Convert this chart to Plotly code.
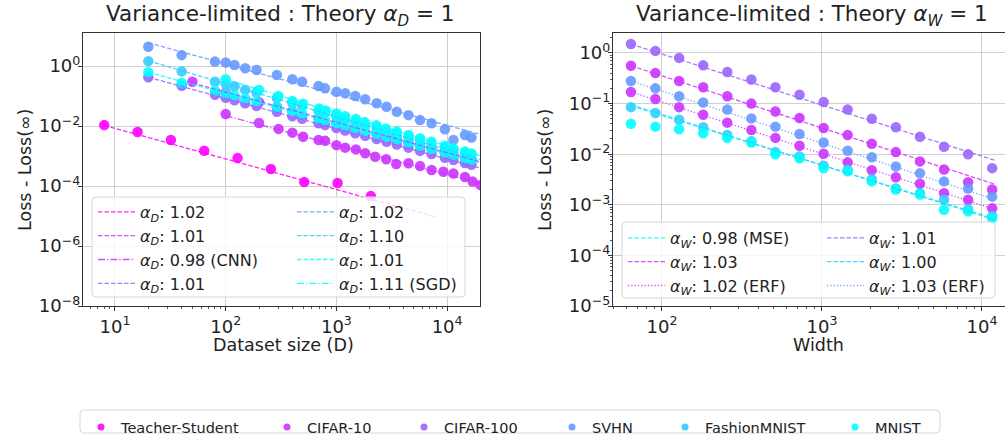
import numpy as np
import plotly.graph_objects as go

FIG_W, FIG_H = 1005, 437
FONT = "DejaVu Sans"
INK = "#222222"

# ---------------------------------------------------------------- datasets
datasets = ["Teacher-Student", "CIFAR-10", "CIFAR-100", "SVHN", "FashionMNIST", "MNIST"]
dataset_colors = ["#ff00ff", "#cc33ff", "#9966ff", "#6699ff", "#33ccff", "#00ffff"]

# ---------------------------------------------------------------- dataset-size sweep
ts_size = [8, 16, 32, 64, 128, 256, 512, 1024, 2048]
ts_loss = [1.07e-2, 6.3e-3, 3.4e-3, 1.5e-3, 8.5e-4, 3.7e-4, 1.35e-4, 1.26e-4, 4.6e-5]

size_grid = [20, 40, 80, 100, 120, 150, 190, 290, 400, 490, 690, 790, 1000, 1200, 1480,
             1820, 2310, 2840, 3510, 4470, 5690, 7240, 9550, 11400, 14500, 16600]

svhn_size_loss = [4.4, 2.3, 1.4, 1.3, 1.08, 0.84, 0.74, 0.50, 0.36, 0.30, 0.215, 0.18, 0.139,
                  0.123, 0.10, 0.078, 0.057, 0.044, 0.030, 0.023, 0.0158, 0.0123, 0.0078,
                  0.0034, 0.0050, 0.0041]
cifar100_size_loss = [0.42, 0.22, 0.11, 0.088, 0.072, 0.057, 0.046, 0.030, 0.021, 0.0175,
                      0.0123, 0.0108, 0.0085, 0.0071, 0.0057, 0.0047, 0.0037, 0.0030, 0.0024,
                      0.0019, 0.00148, 0.00117, 0.00088, 0.00074, 0.00058, 0.00051]
fmnist_size_loss = [1.45, 0.66, 0.30, 0.25, 0.21, 0.16, 0.13, 0.085, 0.058, 0.046, 0.032,
                    0.028, 0.021, 0.0175, 0.0138, 0.0112, 0.0088, 0.0068, 0.0054, 0.0042,
                    0.0032, 0.0025, 0.0019, 0.0016, 0.00125, 0.0011]
mnist_size_loss = [0.62, 0.27, 0.15, 0.12, 0.105, 0.082, 0.066, 0.043, 0.031, 0.026, 0.018,
                   0.0155, 0.0125, 0.0104, 0.0085, 0.0068, 0.0054, 0.0044, 0.0036, 0.0028,
                   0.0022, 0.0017, 0.0013, 0.0011, 0.00085, 0.00075]

cifar10_size = [50, 100, 200, 290, 400, 690, 1000, 1480, 2310, 2840, 3510, 4470, 5690, 7240,
                9550, 11400, 14500, 16600]
cifar10_size_loss = [0.30, 0.13, 0.062, 0.043, 0.031, 0.018, 0.0125, 0.0085, 0.0055, 0.0045,
                     0.0036, 0.0028, 0.0022, 0.0017, 0.0013, 0.0011, 0.00085, 0.00075]

cifar10_cnn_size = [100, 200, 300, 400, 500, 690, 790, 1000, 1200, 1500, 1820, 2240, 2820,
                    3470, 4470, 5690, 7240, 9250, 11400, 14500, 17000, 20000]
cifar10_cnn_loss = [2.5e-2, 1.26e-2, 8.0e-3, 6.0e-3, 4.4e-3, 3.4e-3, 3.2e-3, 2.3e-3, 1.9e-3,
                    1.66e-3, 1.23e-3, 9.5e-4, 7.8e-4, 5.4e-4, 5.7e-4, 4.6e-4, 3.4e-4, 3.0e-4,
                    2.6e-4, 2.0e-4, 1.4e-4, 1.07e-4]

mnist_sgd_size = [100, 200, 300, 400, 500, 700, 800, 1000, 1200, 1500, 1800, 2300, 2800,
                  3500, 4500, 5700, 7200, 9500, 11400, 14500, 16600]
mnist_sgd_loss = [0.36, 0.16, 0.10, 0.068, 0.055, 0.038, 0.033, 0.026, 0.021, 0.017, 0.0135,
                  0.0105, 0.0082, 0.0066, 0.0050, 0.0039, 0.0030, 0.0022, 0.0018, 0.0014,
                  0.0012]

# power-law fits  L = L0 * (D / D0) ** -alpha
size_fit_alpha = [1.02, 1.01, 0.98, 1.01, 1.02, 1.10, 1.01, 1.11]
size_fit_note = ["", "", " (CNN)", "", "", "", "", " (SGD)"]
size_fit_data = ["Teacher-Student", "CIFAR-10", "CIFAR-10", "CIFAR-100",
                 "SVHN", "FashionMNIST", "MNIST", "MNIST"]
size_fit_start = [8, 50, 100, 20, 20, 20, 20, 100]
size_fit_stop = [8192, 20000, 20000, 20000, 20000, 20000, 20000, 20000]
size_fit_loss0 = [1.05e-2, 0.27, 0.022, 0.42, 6.0, 1.5, 0.62, 0.36]
size_fit_dash = ["dash", "dash", "dashdot", "dash", "dash", "dash", "dash", "dashdot"]

# ---------------------------------------------------------------- width sweep
width_grid = [64, 91, 128, 181, 256, 362, 512, 724, 1024, 1448, 2048, 2896, 4096, 5793,
              8192, 11585]
cifar100_width_loss = [1.5, 1.1, 0.8, 0.57, 0.42, 0.30, 0.21, 0.15, 0.107, 0.076, 0.050,
                       0.034, 0.022, 0.014, 0.010, 0.0053]
cifar10_width_loss = [0.56, 0.40, 0.28, 0.21, 0.14, 0.10, 0.07, 0.052, 0.033, 0.024, 0.016,
                      0.011, 0.0072, 0.0050, 0.0028, 0.0020]
svhn_erf_width_loss = [0.28, 0.20, 0.14, 0.105, 0.076, 0.051, 0.035, 0.025, 0.017, 0.0117,
                       0.0087, 0.0057, 0.0042, 0.0029, 0.0021, 0.00145]
cifar10_erf_width_loss = [0.17, 0.123, 0.085, 0.060, 0.042, 0.030, 0.021, 0.0147, 0.0102,
                          0.0069, 0.0048, 0.0035, 0.0026, 0.0017, 0.00126, 0.00085]
fmnist_width_loss = [0.085, 0.065, 0.048, 0.034, 0.024, 0.018, 0.011, 0.009, 0.0059, 0.0049,
                     0.0032, 0.0021, 0.0017, 0.00126, 0.00082, 0.0006]
mnist_width_loss = [0.040, 0.035, 0.031, 0.026, 0.021, 0.017, 0.010, 0.0083, 0.0053, 0.0046,
                    0.0029, 0.0020, 0.0016, 0.0008, 0.00074, 0.00054]

width_fit_alpha = [0.98, 1.03, 1.02, 1.01, 1.00, 1.03]
width_fit_note = [" (MSE)", "", " (ERF)", "", "", " (ERF)"]
width_fit_data = ["MNIST", "CIFAR-10", "CIFAR-10", "CIFAR-100", "FashionMNIST", "SVHN"]
width_fit_start = [64, 64, 64, 64, 64, 64]
width_fit_stop = [12000, 12000, 12000, 12000, 12000, 12000]
width_fit_loss0 = [0.09, 0.56, 0.17, 1.5, 0.095, 0.28]
width_fit_dash = ["dash", "dash", "dot", "dash", "dash", "dot"]

# ---------------------------------------------------------------- helpers
color_of = dict(zip(datasets, dataset_colors))
DASHES = {"dash": "4.5px,2px", "dashdot": "7px,2px,1.3px,2px", "dot": "1.3px,2px"}


def px_x(px):
    return px / FIG_W


def px_y(py):
    return 1 - py / FIG_H


def rounded_box(x0, y0, x1, y1, r=4):
    X, Y = px_x, px_y
    return (f"M {X(x0 + r)},{Y(y0)} L {X(x1 - r)},{Y(y0)} Q {X(x1)},{Y(y0)} {X(x1)},{Y(y0 + r)} "
            f"L {X(x1)},{Y(y1 - r)} Q {X(x1)},{Y(y1)} {X(x1 - r)},{Y(y1)} "
            f"L {X(x0 + r)},{Y(y1)} Q {X(x0)},{Y(y1)} {X(x0)},{Y(y1 - r)} "
            f"L {X(x0)},{Y(y0 + r)} Q {X(x0)},{Y(y0)} {X(x0 + r)},{Y(y0)} Z")


fig = go.Figure()


def scatter_points(x, y, name, xa, ya):
    fig.add_trace(go.Scatter(
        x=x, y=y, mode="markers", xaxis=xa, yaxis=ya, showlegend=False,
        marker=dict(size=10.5, color=color_of[name], opacity=0.9, line=dict(width=0)),
        hoverinfo="skip"))


# points: dataset-size panel
scatter_points(ts_size, ts_loss, "Teacher-Student", "x", "y")
scatter_points(cifar10_cnn_size, cifar10_cnn_loss, "CIFAR-10", "x", "y")
scatter_points(cifar10_size, cifar10_size_loss, "CIFAR-10", "x", "y")
scatter_points(size_grid, cifar100_size_loss, "CIFAR-100", "x", "y")
scatter_points(size_grid, svhn_size_loss, "SVHN", "x", "y")
scatter_points(size_grid, fmnist_size_loss, "FashionMNIST", "x", "y")
scatter_points(size_grid, mnist_size_loss, "MNIST", "x", "y")
scatter_points(mnist_sgd_size, mnist_sgd_loss, "MNIST", "x", "y")

# points: width panel
scatter_points(width_grid, cifar100_width_loss, "CIFAR-100", "x2", "y2")
scatter_points(width_grid, cifar10_width_loss, "CIFAR-10", "x2", "y2")
scatter_points(width_grid, svhn_erf_width_loss, "SVHN", "x2", "y2")
scatter_points(width_grid, cifar10_erf_width_loss, "CIFAR-10", "x2", "y2")
scatter_points(width_grid, fmnist_width_loss, "FashionMNIST", "x2", "y2")
scatter_points(width_grid, mnist_width_loss, "MNIST", "x2", "y2")


def fit_lines(alphas, notes, data, starts, stops, loss0s, dashes, sub, xa, ya, legends):
    for i, a in enumerate(alphas):
        xs = np.geomspace(starts[i], stops[i], 60)
        ys = loss0s[i] * (xs / starts[i]) ** (-a)
        fig.add_trace(go.Scatter(
            x=xs, y=ys, mode="lines", xaxis=xa, yaxis=ya,
            name=f"<i>α</i><sub><i>{sub}</i></sub>: {a:.2f}{notes[i]}",
            legend=legends[i], showlegend=True, hoverinfo="skip",
            line=dict(color=color_of[data[i]], width=1.3, dash=DASHES[dashes[i]]),
            opacity=0.85))


fit_lines(size_fit_alpha, size_fit_note, size_fit_data, size_fit_start, size_fit_stop,
          size_fit_loss0, size_fit_dash, "D", "x", "y",
          ["legend"] * 4 + ["legend2"] * 4)
fit_lines(width_fit_alpha, width_fit_note, width_fit_data, width_fit_start, width_fit_stop,
          width_fit_loss0, width_fit_dash, "W", "x2", "y2",
          ["legend3"] * 3 + ["legend4"] * 3)

# dataset keys along the bottom
key_centers = [101, 287, 424, 572, 685, 855]
for k, name in enumerate(datasets):
    fig.add_trace(go.Scatter(
        x=[None], y=[None], mode="markers", name=name, legend=f"legend{5 + k}",
        showlegend=True, marker=dict(size=7, color=color_of[name], opacity=0.9)))

# ---------------------------------------------------------------- axes
def sup(n):
    return f"10<sup>{'−' if n < 0 else ''}{abs(n)}</sup>"


def minor_vals(lo, hi):
    return [m * 10.0 ** e for e in range(lo, hi) for m in range(2, 10)]


axis_common = dict(
    type="log", showline=True, linecolor="#333333", linewidth=1.2, mirror=True,
    ticks="outside", ticklen=4, tickwidth=1, tickcolor="#333333",
    showgrid=True, gridcolor="#cfcfcf", gridwidth=1.3, zeroline=False,
    tickfont=dict(family=FONT, size=18, color=INK), tickmode="array")

y_top, y_bot = 33, 306
fig.update_layout(
    xaxis=dict(axis_common, domain=[px_x(83), px_x(480)], range=[0.711, 4.297], anchor="y",
               tickvals=[10, 100, 1000, 10000], ticktext=[sup(e) for e in range(1, 5)],
               minor=dict(tickmode="array", tickvals=minor_vals(0, 5), ticks="outside",
                          ticklen=2, tickcolor="#555555", showgrid=False)),
    yaxis=dict(axis_common, domain=[px_y(y_bot), px_y(y_top)], range=[-8, 1.1], anchor="x",
               ticklabelstandoff=-6,
               tickvals=[1e-8, 1e-6, 1e-4, 1e-2, 1], ticktext=[sup(e) for e in (-8, -6, -4, -2, 0)]),
    xaxis2=dict(axis_common, domain=[px_x(613), 1.0], range=[1.694, 4.144], anchor="y2",
                tickvals=[100, 1000, 10000], ticktext=[sup(e) for e in range(2, 5)],
                minor=dict(tickmode="array", tickvals=minor_vals(1, 5), ticks="outside",
                           ticklen=2, tickcolor="#555555", showgrid=False)),
    yaxis2=dict(axis_common, domain=[px_y(y_bot), px_y(y_top)], range=[-5, 0.395], anchor="x2",
                ticklabelstandoff=-6,
                tickvals=[1e-5, 1e-4, 1e-3, 1e-2, 1e-1, 1],
                ticktext=[sup(e) for e in (-5, -4, -3, -2, -1, 0)],
                minor=dict(tickmode="array", tickvals=minor_vals(-5, 1), ticks="outside",
                           ticklen=2, tickcolor="#555555", showgrid=False)),
)

# ---------------------------------------------------------------- legends
legend_common = dict(bgcolor="rgba(0,0,0,0)", borderwidth=0, xanchor="left", yanchor="top",
                     itemwidth=37, tracegroupgap=0, orientation="v",
                     font=dict(family=FONT, size=16, color=INK))
legends = {
    "legend": dict(legend_common, x=px_x(93), y=px_y(195)),
    "legend2": dict(legend_common, x=px_x(292), y=px_y(195)),
    "legend3": dict(legend_common, x=px_x(623), y=px_y(221)),
    "legend4": dict(legend_common, x=px_x(822), y=px_y(221)),
}
for k, cx in enumerate(key_centers):
    legends[f"legend{5 + k}"] = dict(legend_common, x=px_x(cx - 20), y=px_y(411),
                                     itemwidth=30, font=dict(family=FONT, size=14.5, color=INK))
fig.update_layout(**legends)

# legend frames (semi-transparent, drawn over the data)
frame = dict(type="path", xref="paper", yref="paper", layer="above",
             fillcolor="rgba(255,255,255,0.8)", line=dict(color="#d6d6d6", width=1))
fig.update_layout(shapes=[
    dict(frame, path=rounded_box(92, 197, 465, 297)),
    dict(frame, path=rounded_box(622, 222, 995, 298)),
    dict(frame, path=rounded_box(80, 410, 940, 433), fillcolor="white"),
])

# ---------------------------------------------------------------- titles
def label(text, x, y, size, angle=0):
    return dict(text=text, x=px_x(x), y=px_y(y), xref="paper", yref="paper",
                showarrow=False, textangle=angle, xanchor="center", yanchor="middle",
                font=dict(family=FONT, size=size, color=INK))


fig.update_layout(annotations=[
    label("Variance-limited : Theory <i>α</i><sub><i>D</i></sub> = 1", 280, 16, 21.5),
    label("Variance-limited : Theory <i>α</i><sub><i>W</i></sub> = 1", 812, 16, 21.5),
    label("Loss - Loss(∞)", 25, 170, 17.5, -90),
    label("Loss - Loss(∞)", 545, 170, 17.5, -90),
    label("Dataset size (D)", 283, 345, 17.5),
    label("Width", 818, 345, 17.5),
])

fig.update_layout(
    width=FIG_W, height=FIG_H, margin=dict(l=0, r=0, t=0, b=0, autoexpand=False),
    paper_bgcolor="white", plot_bgcolor="white", font=dict(family=FONT, color=INK),
)

fig.write_html("out.html")
